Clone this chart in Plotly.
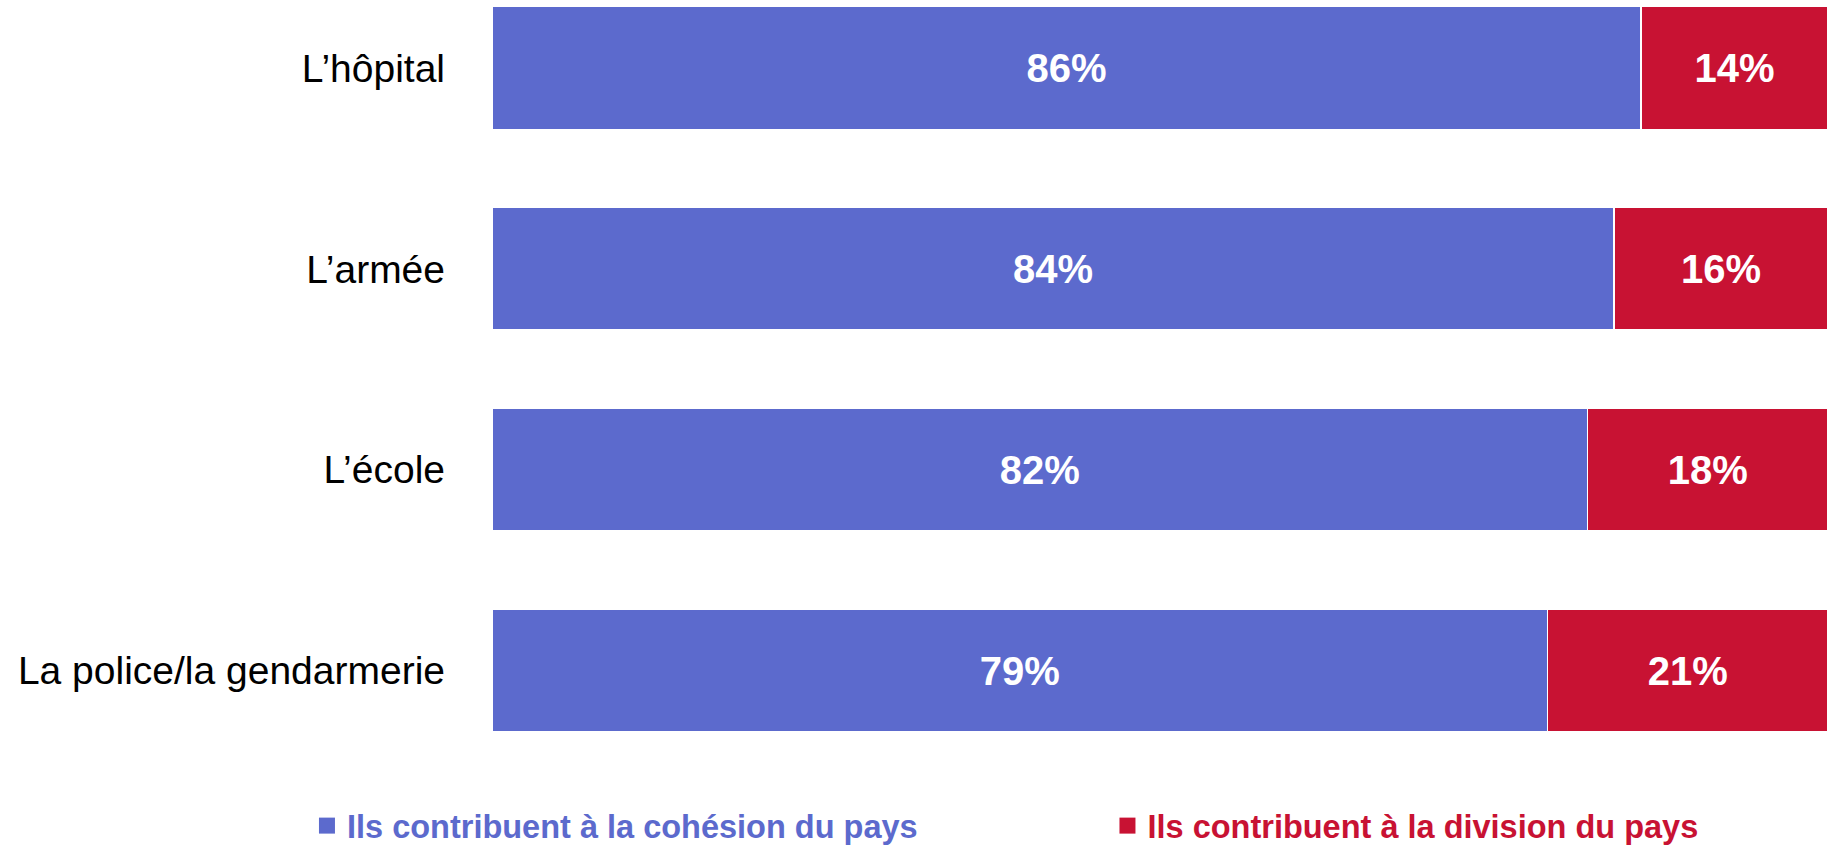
import plotly.graph_objects as go

categories = ["L’hôpital", "L’armée", "L’école", "La police/la gendarmerie"]
cohesion = [86, 84, 82, 79]
division = [14, 16, 18, 21]
series_names = ["Ils contribuent à la cohésion du pays", "Ils contribuent à la division du pays"]

BLUE = "#5C6ACD"
RED = "#C81233"

fig = go.Figure()
for vals, color, nm in [(cohesion, BLUE, series_names[0]), (division, RED, series_names[1])]:
    fig.add_trace(go.Bar(
        y=categories, x=vals, orientation="h", name=nm, showlegend=False, legendgroup=nm,
        marker=dict(color=color, line=dict(color="white", width=1.5)),
        text=[f"<b>{v}%</b>" for v in vals], textposition="inside", insidetextanchor="middle",
        textfont=dict(color="white", size=40, family="Liberation Sans"), width=0.61,
        constraintext="none", hoverinfo="y+x",
    ))

# legend entries (square swatches)
for color, nm in [(BLUE, series_names[0]), (RED, series_names[1])]:
    fig.add_trace(go.Scatter(
        x=[None], y=[None], mode="markers", legendgroup=nm,
        name=f'<span style="color:{color}"><b>{nm}</b></span>',
        marker=dict(symbol="square", size=16, color=color),
        showlegend=True,
    ))

fig.update_layout(
    barmode="stack",
    width=1828, height=846,
    margin=dict(l=492, r=0, t=0, b=106, autoexpand=False),
    paper_bgcolor="white", plot_bgcolor="white",
    font=dict(family="Liberation Sans", color="black"),
    showlegend=True,
    legend=dict(
        orientation="h", x=-0.1385, xanchor="left", y=-0.1162, yanchor="middle",
        font=dict(size=32.5, family="Liberation Sans"),
        entrywidth=755.5, entrywidthmode="pixels",
        traceorder="normal", itemclick=False, itemdoubleclick=False,
    ),
    xaxis=dict(range=[0, 100], visible=False, fixedrange=True),
    yaxis=dict(
        categoryorder="array", categoryarray=categories,
        range=[3.345, -0.3385], showgrid=False, zeroline=False, showline=False,
        ticks="", tickfont=dict(size=39, color="black", family="Liberation Sans"),
        ticklabelstandoff=46, automargin=False,
    ),
    uniformtext=dict(mode=False),
)

fig.write_html(
    "out.html",
    config={"displayModeBar": False},
    post_script="document.body.style.margin='0';document.body.style.overflow='hidden';",
)
